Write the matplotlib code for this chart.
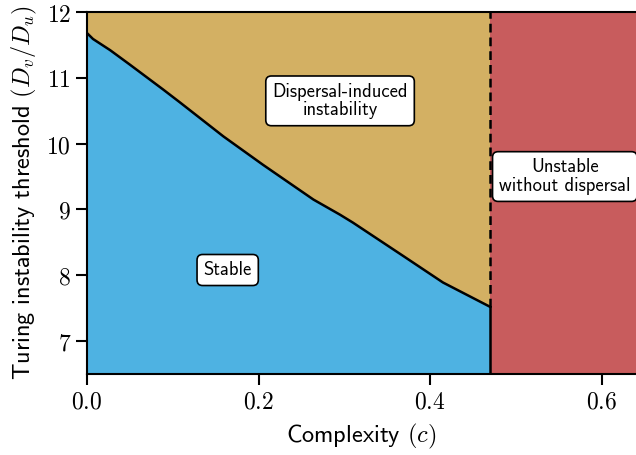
import matplotlib
matplotlib.use("Agg")
import matplotlib.pyplot as plt
from matplotlib.ticker import FuncFormatter

plt.rcParams["mathtext.fontset"] = "cm"

# threshold curve: complexity c vs critical Dv/Du
complexity = [0.0, 0.007, 0.027, 0.05, 0.089, 0.108, 0.159, 0.205, 0.264, 0.295, 0.31, 0.369, 0.415, 0.47]
threshold = [11.68, 11.59, 11.42, 11.20, 10.82, 10.63, 10.11, 9.68, 9.15, 8.92, 8.80, 8.29, 7.89, 7.52]
c_crit = 0.47
x_max = 0.64
y_min, y_max = 6.5, 12.0

blue = "#4EB2E2"
gold = "#D3B063"
red = "#C85C5D"
sans = "cmss10"

fig = plt.figure(figsize=(6.36, 4.55), dpi=100)
ax = fig.add_axes([87 / 636, 1 - 374 / 455, 1 - 87 / 636, (374 - 12) / 455])

ax.fill_between(complexity, y_min, threshold, color=blue, lw=0)
ax.fill_between(complexity, threshold, y_max, color=gold, lw=0)
ax.axvspan(c_crit, x_max, color=red, lw=0)

ax.plot(complexity, threshold, color="black", lw=1.8)
ax.plot([c_crit, c_crit], [threshold[-1], y_max], color="black", lw=1.8, ls=(0, (3.5, 2)))
ax.plot([c_crit, c_crit], [y_min, threshold[-1]], color="black", lw=1.8)

ax.set_xlim(0, x_max)
ax.set_ylim(y_min, y_max)
ax.set_xticks([0.0, 0.2, 0.4, 0.6])
ax.set_yticks([7, 8, 9, 10, 11, 12])
ax.xaxis.set_major_formatter(FuncFormatter(lambda v, p: f"${v:.1f}$"))
ax.yaxis.set_major_formatter(FuncFormatter(lambda v, p: f"${v:.0f}$"))
ax.tick_params(labelsize=17, length=8, width=1.5, direction="out")

for side in ["left", "bottom", "top"]:
    ax.spines[side].set_linewidth(1.5)
ax.spines["right"].set_visible(False)

ax.set_xlabel("Complexity $(c)$", fontsize=17.5, family=sans, labelpad=6)
ax.set_ylabel("Turing instability threshold $(D_v/D_u)$", fontsize=17.5, family=sans, labelpad=5)

box = dict(boxstyle="round,pad=0.35,rounding_size=0.3", fc="white", ec="black", lw=1.2)
ax.text(0.295, 10.65, "Dispersal-induced\ninstability", ha="center", va="center",
        fontsize=13.4, family=sans, linespacing=1.05, bbox=box)
ax.text(0.557, 9.5, "Unstable\nwithout dispersal", ha="center", va="center",
        fontsize=13.4, family=sans, linespacing=1.05, bbox=box)
ax.text(0.164, 8.08, "Stable", ha="center", va="center",
        fontsize=13.4, family=sans, bbox=box)

fig.savefig("out.png", dpi=100)
